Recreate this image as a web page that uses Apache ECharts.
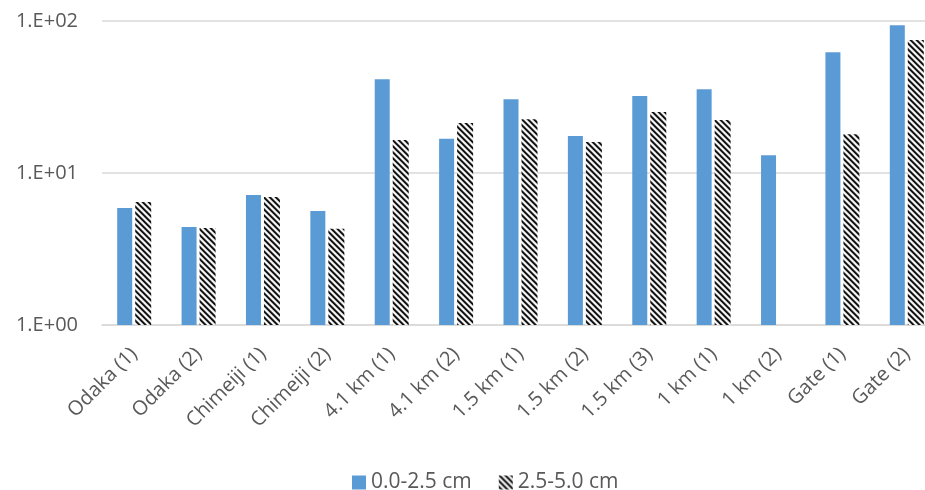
<!DOCTYPE html>
<html>
<head>
<meta charset="utf-8">
<script src="https://cdn.jsdelivr.net/npm/echarts@6/dist/echarts.min.js"></script>
<style>
  html, body { margin: 0; padding: 0; background: #fff; overflow: hidden; width: 925px; height: 490px; }
  /* canvas is a little wider than the window; the last bar is clipped at the edge */
  #chart { width: 939px; height: 490px; }
</style>
</head>
<body>
<div id="chart"></div>
<script>
// Sampling sites
const categories = [
  'Odaka (1)', 'Odaka (2)', 'Chimeiji (1)', 'Chimeiji (2)',
  '4.1 km (1)', '4.1 km (2)', '1.5 km (1)', '1.5 km (2)', '1.5 km (3)',
  '1 km (1)', '1 km (2)', 'Gate (1)', 'Gate (2)'
];
// Series values by depth layer
const seriesNames = ['0.0-2.5 cm', '2.5-5.0 cm'];
const shallow = [5.89, 4.42, 7.17, 5.63, 41.4, 16.8, 30.6, 17.5, 32.1, 35.6, 13.1, 62.3, 93.7];
const deep    = [6.45, 4.35, 6.96, 4.29, 16.5, 21.3, 22.6, 16.0, 25.2, 22.3, null, 18.0, 75.0];
// Tick labels on the log axis
const yTickLabels = { 1: '1.E+00', 10: '1.E+01', 100: '1.E+02' };

// Diagonal stripe fill for the second series
function makeStripeTile() {
  const P = 6;
  const c = document.createElement('canvas');
  c.width = P; c.height = P;
  const ctx = c.getContext('2d');
  const img = ctx.createImageData(P, P);
  for (let y = 0; y < P; y++) {
    for (let x = 0; x < P; x++) {
      const d = (((x - y) % P) + P) % P;
      let v;
      if (d === 0 || d === 1) v = 20;
      else if (d === 2) v = 120;
      else if (d === 5) v = 170;
      else v = 245;
      const i = (y * P + x) * 4;
      img.data[i] = v; img.data[i + 1] = v; img.data[i + 2] = v; img.data[i + 3] = 255;
    }
  }
  ctx.putImageData(img, 0, 0);
  return c;
}
const stripeFill = { image: makeStripeTile(), repeat: 'repeat' };

const FONT = '"Open Sans", sans-serif';
const chart = echarts.init(document.getElementById('chart'));
chart.setOption({
  animation: false,
  textStyle: { fontFamily: FONT },
  grid: { left: 102, right: 0, top: 21, bottom: 165, containLabel: false },
  legend: {
    top: 467,
    left: 347,
    itemWidth: 14,
    itemHeight: 14,
    itemGap: 27,
    icon: 'rect',
    textStyle: { color: '#595959', fontSize: 21, fontFamily: FONT },
    data: seriesNames
  },
  xAxis: {
    type: 'category',
    data: categories,
    axisTick: { show: false },
    axisLine: { lineStyle: { color: '#d9d9d9', width: 1.5 } },
    axisLabel: { rotate: 45, interval: 0, color: '#595959', fontSize: 20, fontFamily: FONT, margin: 26 }
  },
  yAxis: {
    type: 'log',
    logBase: 10,
    min: 1,
    max: 100,
    axisLine: { show: false },
    axisTick: { show: false },
    splitLine: { lineStyle: { color: '#d9d9d9', width: 1.5 } },
    axisLabel: {
      color: '#595959', fontSize: 20, fontFamily: FONT, margin: 24,
      formatter: v => yTickLabels[Math.round(v)] || ''
    }
  },
  series: [
    {
      name: seriesNames[0],
      type: 'bar',
      data: shallow,
      barWidth: 15,
      barGap: '20%',
      itemStyle: { color: '#5b9bd5' }
    },
    {
      name: seriesNames[1],
      type: 'bar',
      data: deep,
      barWidth: 16,
      itemStyle: { color: stripeFill }
    }
  ]
});
</script>
</body>
</html>
